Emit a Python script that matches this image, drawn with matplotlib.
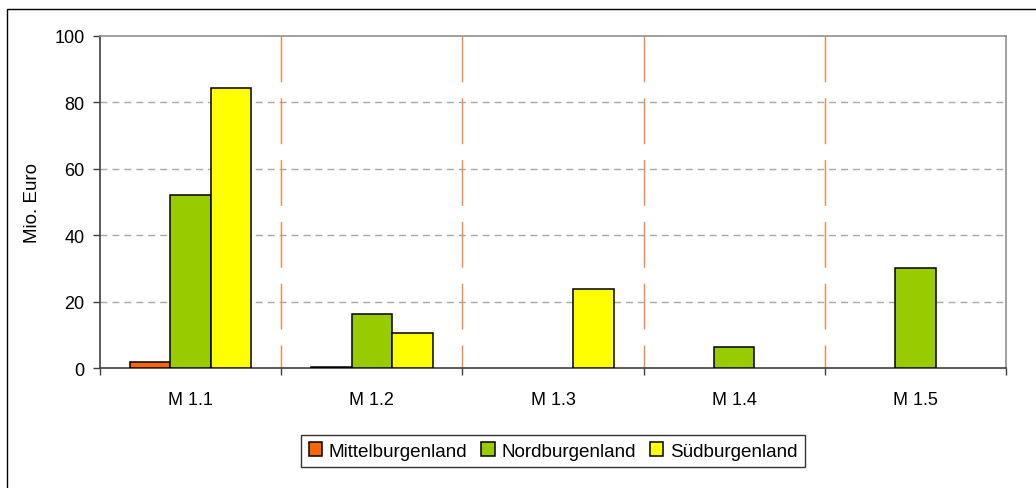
import matplotlib.pyplot as plt
from matplotlib.patches import Rectangle, Patch
import numpy as np

categories = ['M 1.1', 'M 1.2', 'M 1.3', 'M 1.4', 'M 1.5']
series_names = ['Mittelburgenland', 'Nordburgenland', 'Südburgenland']
mittel = [2.0, 0.5, 0, 0, 0]
nord = [52.2, 16.4, 0, 6.3, 30.1]
sued = [84.2, 10.5, 23.7, 0, 0]
colors = ['#ff6600', '#99cc00', '#ffff00']
y_ticks = [0, 20, 40, 60, 80, 100]

plt.rcParams['font.family'] = ['Liberation Sans', 'DejaVu Sans']

fig = plt.figure(figsize=(10.36, 4.89), dpi=100)
ax = fig.add_axes([100 / 1036, 1 - 369.3 / 489, 906 / 1036, 332.6 / 489])

# outer chart frame
fig.patches.append(Rectangle((7 / 1036, -0.1), 1.2, 1.1 - 10 / 489, transform=fig.transFigure,
                             fill=False, edgecolor='black', linewidth=1.0))

x = np.arange(len(categories))
w = 0.224
for i, (vals, c) in enumerate(zip([mittel, nord, sued], colors)):
    xs = [xi + (i - 1) * w for xi, v in zip(x, vals) if v > 0]
    vs = [v for v in vals if v > 0]
    ax.bar(xs, vs, width=w, color=c, edgecolor='black', linewidth=1.1, zorder=3)

ax.set_xlim(-0.5, len(categories) - 0.5)
ax.set_ylim(0, 100)
ax.set_yticks(y_ticks)
ax.set_xticks(x)
ax.set_xticklabels(categories)
ax.set_xticks(np.arange(-0.5, len(categories)), minor=True)
ax.tick_params(axis='x', which='major', length=0, pad=16, labelsize=13)
ax.tick_params(axis='x', which='minor', length=5, width=1, color='#404040', direction='out')
ax.tick_params(axis='y', length=5, width=1, color='#404040', pad=6, labelsize=13)

# grid: gray dashed horizontals, orange long-dash verticals between groups
for yv in y_ticks[1:-1]:
    ax.axhline(yv, color='#a8a8a8', linewidth=1, dashes=(5, 3.6), zorder=1)
for xv in np.arange(0.5, len(categories) - 0.5):
    ax.plot([xv, xv], [100, 0], color='#f4884a', linewidth=1, dashes=(33, 11.5), zorder=1)

for s in ['left', 'bottom']:
    ax.spines[s].set_color('#404040')
    ax.spines[s].set_linewidth(1.2)
for s in ['top', 'right']:
    ax.spines[s].set_color('#909090')
    ax.spines[s].set_linewidth(1.2)

ax.set_ylabel('Mio. Euro', fontsize=13.5, labelpad=10)

handles = [Patch(facecolor=c, edgecolor='black', linewidth=1.1) for c in colors]
leg = fig.legend(handles, series_names, loc='center', bbox_to_anchor=(553 / 1036, 1 - 452 / 489),
                 ncol=3, frameon=True, fancybox=False, fontsize=13.6, handlelength=0.7,
                 handleheight=0.7, handletextpad=0.35, columnspacing=0.75, borderpad=0.4)
leg.get_frame().set_edgecolor('black')
leg.get_frame().set_linewidth(1.0)

fig.savefig('out.png', dpi=100)
